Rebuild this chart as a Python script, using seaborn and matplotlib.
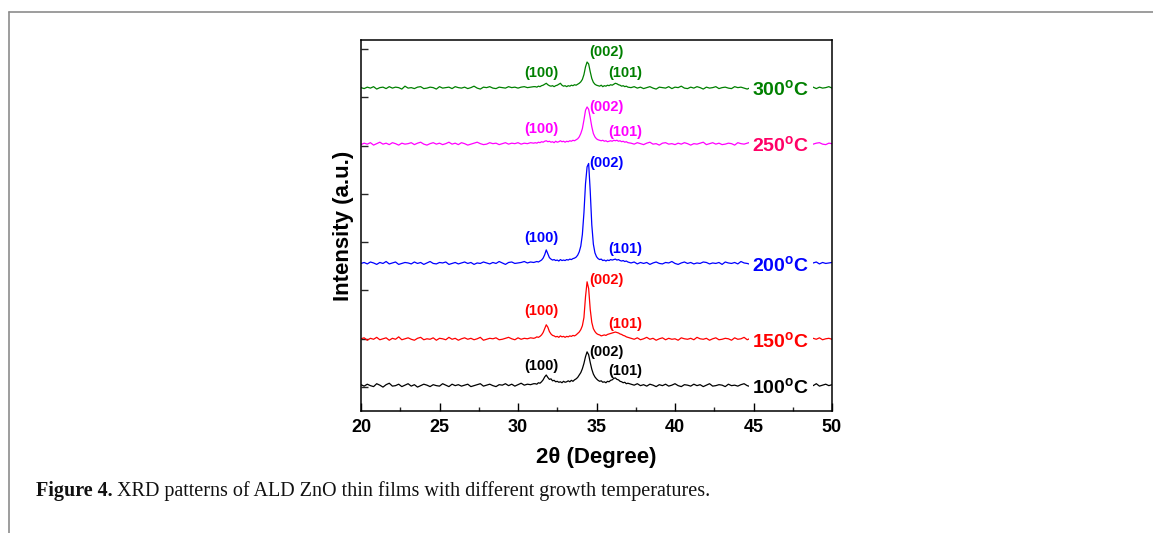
import numpy as np
import pandas as pd
import matplotlib
matplotlib.use("Agg")
import matplotlib.pyplot as plt
import seaborn as sns
from matplotlib.lines import Line2D
from matplotlib.ticker import MultipleLocator

# ---------------- data ----------------
# 2-theta scan positions (degree): coarse background, fine peak region, coarse background
two_theta_left = [20.0, 20.2, 20.4, 20.6, 20.8, 21.0, 21.2, 21.4, 21.6, 21.8,
                  22.0, 22.2, 22.4, 22.6, 22.8, 23.0, 23.2, 23.4, 23.6, 23.8,
                  24.0, 24.2, 24.4, 24.6, 24.8, 25.0, 25.2, 25.4, 25.6, 25.8,
                  26.0, 26.2, 26.4, 26.6, 26.8, 27.0, 27.2, 27.4, 27.6, 27.8,
                  28.0, 28.2, 28.4, 28.6, 28.8, 29.0, 29.2, 29.4, 29.6, 29.8,
                  30.0, 30.2, 30.4, 30.6, 30.8, 31.0]
two_theta_mid = [31.1, 31.2, 31.3, 31.4, 31.5, 31.6, 31.7, 31.8, 31.9, 32.0,
                 32.1, 32.2, 32.3, 32.4, 32.5, 32.6, 32.7, 32.8, 32.9, 33.0,
                 33.1, 33.2, 33.3, 33.4, 33.5, 33.6, 33.7, 33.8, 33.9, 34.0,
                 34.1, 34.2, 34.3, 34.4, 34.5, 34.6, 34.7, 34.8, 34.9, 35.0,
                 35.1, 35.2, 35.3, 35.4, 35.5, 35.6, 35.7, 35.8, 35.9, 36.0,
                 36.1, 36.2, 36.3, 36.4, 36.5, 36.6, 36.7, 36.8, 36.9, 37.0]
two_theta_right = [37.2, 37.4, 37.6, 37.8, 38.0, 38.2, 38.4, 38.6, 38.8, 39.0,
                   39.2, 39.4, 39.6, 39.8, 40.0, 40.2, 40.4, 40.6, 40.8, 41.0,
                   41.2, 41.4, 41.6, 41.8, 42.0, 42.2, 42.4, 42.6, 42.8, 43.0,
                   43.2, 43.4, 43.6, 43.8, 44.0, 44.2, 44.4, 44.6, 44.8, 45.0,
                   45.2, 45.4, 45.6, 45.8, 46.0, 46.2, 46.4, 46.6, 46.8, 47.0,
                   47.2, 47.4, 47.6, 47.8, 48.0, 48.2, 48.4, 48.6, 48.8, 49.0,
                   49.2, 49.4, 49.6, 49.8, 50.0]
two_theta = two_theta_left + two_theta_mid + two_theta_right

# intensities (a.u., relative to each pattern's own baseline)
int_100C = [2, -1, 3, 0, -2, 4, 1, -3, 2, 5,
            -1, 0, 3, -2, 1, 4, -1, 2, -3, 0,
            3, 1, -2, 2, 0, -1, 4, 1, -2, 3,
            0, 2, -1, 1, 3, -2, 0, 2, 4, -1,
            1, 3, 0, -2, 2, 1, 4, 0, 3, -1,
            2, 5, 1, 3, 2, 4,
            4, 3, 6, 5, 8, 12, 18, 22, 17, 13,
            14, 10, 11, 8, 9, 7, 8, 6, 9, 7,
            8, 10, 8, 11, 9, 12, 14, 17, 22, 27,
            35, 46, 60, 70, 64, 48, 34, 24, 18, 14,
            11, 9, 10, 7, 8, 6, 9, 8, 11, 12,
            15, 16, 13, 12, 9, 8, 6, 7, 4, 5,
            3, 1, 4, 0, 2, -1, 3, 1, -2, 2,
            0, 3, -1, 1, 4, 0, -2, 2, 1, -1,
            3, 0, 2, -2, 1, 4, -1, 0, 2, 1,
            -2, 3, 0, 1, -1, 2, 4, 0, -2, 1,
            3, -1, 2, 0, 1, -3, 2, 0, 3, -1,
            1, 2, -2, 0, 3, 1, -1, 2, 0, 4,
            -1, 1, 3, 0, 2]
int_150C = [1, 3, -2, 2, 0, 4, -1, 1, 3, -2,
            2, 0, 5, -1, 1, 3, 0, -2, 2, 4,
            -1, 1, 0, 3, -2, 2, 1, -1, 4, 0,
            2, -2, 1, 3, 0, 2, -1, 1, 4, -2,
            0, 2, 1, 3, -1, 0, 2, 4, 1, -1,
            3, 0, 2, 1, 3, 2,
            3, 5, 4, 6, 9, 14, 22, 30, 25, 16,
            11, 8, 7, 5, 6, 4, 7, 5, 6, 4,
            6, 5, 7, 6, 8, 7, 9, 12, 15, 20,
            28, 45, 88, 119, 105, 62, 35, 22, 16, 12,
            10, 9, 7, 8, 9, 8, 10, 11, 12, 13,
            14, 15, 14, 13, 11, 10, 8, 7, 5, 4,
            2, 0, 3, -1, 1, 4, 0, 2, -2, 1,
            3, -1, 2, 0, 1, -2, 3, 1, 0, 2,
            -1, 4, 1, 0, 2, -2, 1, 3, -1, 0,
            2, 1, -2, 3, 0, 1, 4, -1, 2, 0,
            1, -2, 3, 1, 0, 2, -1, 4, 1, 0,
            2, -1, 3, 0, 1, 5, -2, 1, 2, 0,
            3, -1, 1, 2, 0]
int_200C = [0, 2, -1, 3, 1, -2, 2, 0, 4, -1,
            1, 3, -2, 0, 2, 1, -1, 3, 0, 2,
            -2, 1, 4, 0, -1, 2, 1, 3, -2, 0,
            2, -1, 1, 3, 0, 2, -2, 1, 0, 3,
            1, -1, 2, 0, 4, 1, -2, 2, 3, 0,
            1, 2, 4, 1, 3, 2,
            3, 4, 3, 5, 7, 11, 18, 28, 20, 12,
            9, 7, 8, 6, 7, 5, 8, 6, 7, 6,
            8, 7, 9, 8, 10, 11, 13, 17, 24, 36,
            60, 105, 165, 200, 207, 150, 80, 40, 22, 14,
            10, 8, 9, 6, 7, 5, 7, 6, 8, 7,
            8, 9, 7, 8, 6, 5, 6, 4, 5, 3,
            1, 3, -1, 2, 0, 2, -2, 1, 3, 0,
            -1, 2, 1, 4, 0, -2, 1, 3, 0, 2,
            -1, 1, 0, 3, 2, -1, 1, 0, 2, -2,
            3, 1, 0, 2, -1, 4, 1, 0, -2, 2,
            1, 3, 0, -1, 2, 1, -2, 3, 0, 1,
            2, -1, 0, 3, 1, -2, 2, 0, 1, 3,
            -1, 2, 0, 1, 2]
int_250C = [-1, 2, 0, 3, -2, 1, 4, 0, 2, -1,
            3, 1, -2, 2, 0, 1, 3, -1, 2, 4,
            0, -2, 1, 3, 0, 2, -1, 1, 4, 0,
            2, -1, 3, 1, -2, 0, 2, 4, 1, -1,
            0, 3, 1, 2, -1, 1, 3, 0, 2, 1,
            3, 0, 2, 1, 3, 2,
            3, 2, 4, 3, 5, 4, 6, 7, 5, 6,
            4, 5, 3, 6, 4, 5, 7, 5, 6, 4,
            6, 5, 7, 6, 8, 7, 9, 11, 15, 22,
            32, 50, 70, 77, 72, 55, 36, 22, 15, 11,
            9, 8, 7, 8, 6, 7, 5, 6, 7, 6,
            8, 7, 8, 6, 7, 5, 6, 4, 5, 3,
            2, 0, 3, 1, -1, 2, 4, 0, 1, -2,
            2, 3, 0, 1, -1, 2, 0, 3, 1, -2,
            1, 0, 2, 4, -1, 1, 3, 0, 2, -1,
            0, 2, 1, -2, 3, 1, 0, 2, 4, -1,
            1, 0, 2, 3, -1, 1, 2, 0, 3, 1,
            -2, 2, 0, 1, 3, -1, 2, 1, 0, 2,
            3, 0, -1, 2, 1]
int_300C = [1, -1, 2, 0, 3, -2, 1, 2, -1, 3,
            0, 2, 1, -2, 4, 0, 1, -1, 2, 3,
            -1, 0, 2, 1, -2, 3, 0, 1, 2, -1,
            3, 1, 0, 2, -1, 1, 4, 0, -2, 2,
            1, 3, 0, -1, 2, 1, 0, 3, 1, 2,
            0, 2, 3, 1, 2, 3,
            3, 2, 4, 3, 5, 6, 8, 10, 7, 5,
            4, 5, 3, 5, 6, 8, 10, 6, 4, 5,
            3, 5, 4, 6, 5, 7, 6, 8, 10, 13,
            18, 28, 44, 54, 50, 34, 20, 12, 8, 6,
            5, 4, 6, 3, 5, 4, 6, 5, 7, 6,
            8, 10, 9, 7, 6, 4, 5, 3, 4, 2,
            1, 3, 0, 2, -1, 1, 3, 0, -2, 2,
            1, 0, 3, -1, 2, 1, 4, 0, -1, 2,
            0, 3, 1, -2, 2, 0, 1, 3, -1, 1,
            2, 0, -1, 3, 1, 2, 0, -2, 1, 3,
            0, 2, 1, -1, 4, 0, 1, 2, -1, 3,
            1, 0, 2, -2, 1, 3, 0, 1, 2, -1,
            2, 0, 1, 3, 0]

temperatures = ["100", "150", "200", "250", "300"]
intensities = [int_100C, int_150C, int_200C, int_250C, int_300C]
stack_offsets = [3, 99, 256, 503, 619]
line_colors = ["#000000", "#FF0000", "#0000FF", "#FF00FF", "#008000"]
temp_label_colors = ["#000000", "#FF0000", "#0000FF", "#FF0066", "#008000"]

peak_names = ["(100)", "(002)", "(101)"]
peak_label_x = [31.5, 35.62, 36.86]
peak_label_y = [[44, 73, 33], [157, 222, 130], [308, 463, 286], [534, 580, 529], [651, 694, 651]]

# ---------------- figure ----------------
sns.set_theme(style="ticks")
plt.rcParams["font.family"] = ["Liberation Sans", "DejaVu Sans"]
plt.rcParams["mathtext.fontset"] = "custom"
plt.rcParams["mathtext.rm"] = "Liberation Sans:bold"
plt.rcParams["mathtext.bf"] = "Liberation Sans:bold"

W, H = 1153, 533
fig = plt.figure(figsize=(W / 100, H / 100), dpi=100)
fig.patch.set_facecolor("white")
ax_l, ax_r, ax_t, ax_b = 361, 832, 40, 411
ax = fig.add_axes([ax_l / W, 1 - ax_b / H, (ax_r - ax_l) / W, (ax_b - ax_t) / H])
ax.set_facecolor("white")

frames = []
for temp, vals, off in zip(temperatures, intensities, stack_offsets):
    frames.append(pd.DataFrame({"two_theta": two_theta,
                                "intensity": np.asarray(vals, float) + off,
                                "temp": temp}))
df = pd.concat(frames, ignore_index=True)

sns.lineplot(data=df, x="two_theta", y="intensity", hue="temp",
             hue_order=temperatures, palette=line_colors, estimator=None,
             sort=False, linewidth=0.9, legend=False, ax=ax)

ax.set_xlim(20, 50)
ax.set_ylim(-49.5, 718.6)
ax.xaxis.set_major_locator(MultipleLocator(5))
ax.xaxis.set_minor_locator(MultipleLocator(2.5))
ax.set_yticks(list(range(0, 701, 100)))
ax.set_yticklabels([])
ax.tick_params(axis="x", which="major", direction="in", length=6, width=1.0,
               pad=6, labelsize=13, colors="black")
ax.tick_params(axis="x", which="minor", direction="in", length=3, width=1.0)
ax.tick_params(axis="y", which="major", direction="in", length=5, width=1.0)
for lbl in ax.get_xticklabels():
    lbl.set_fontweight("bold")
for sp in ax.spines.values():
    sp.set_visible(True)
    sp.set_linewidth(1.1)
    sp.set_color("black")

ax.set_xlabel("2θ (Degree)", fontsize=16, fontweight="bold", color="black")
ax.set_ylabel("Intensity (a.u.)", fontsize=16, fontweight="bold", color="black")
ax.xaxis.set_label_coords(0.5, (ax_b - 458) / (ax_b - ax_t))
ax.xaxis.label.set_va("center")
ax.yaxis.set_label_coords((343 - ax_l) / (ax_r - ax_l), 0.5)
ax.yaxis.label.set_va("center")

# temperature labels (white box interrupts each pattern)
for temp, off, col in zip(temperatures, stack_offsets, temp_label_colors):
    ax.text(46.75, off - 4, temp + r"$^{\mathrm{o}}$C", ha="center", va="center", color=col,
            fontsize=14, fontweight="bold",
            bbox=dict(facecolor="white", edgecolor="none", pad=2.5))

# peak labels
for ys, col in zip(peak_label_y, line_colors):
    for name, px, py in zip(peak_names, peak_label_x, ys):
        ax.text(px, py, name, ha="center", va="center", color=col,
                fontsize=10.5, fontweight="bold")

# page frame lines
fig.add_artist(Line2D([9 / W, 1.0], [1 - 12 / H, 1 - 12 / H], transform=fig.transFigure,
                      color="#8c8c8c", linewidth=1.2))
fig.add_artist(Line2D([9 / W, 9 / W], [1 - 12 / H, 0.0], transform=fig.transFigure,
                      color="#8c8c8c", linewidth=1.2))

# caption
cap_y = 1 - 496 / H
t1 = fig.text(36 / W, cap_y, "Figure 4.", family="Liberation Serif", fontweight="bold",
              fontsize=14.5, color="#111111", va="baseline", ha="left")
fig.canvas.draw()
bb = t1.get_window_extent(renderer=fig.canvas.get_renderer())
fig.text((bb.x1 + 4) / W, cap_y,
         "XRD patterns of ALD ZnO thin films with different growth temperatures.",
         family="Liberation Serif", fontsize=14.5, color="#111111", va="baseline", ha="left")

fig.savefig("out.png", dpi=100, facecolor="white")
